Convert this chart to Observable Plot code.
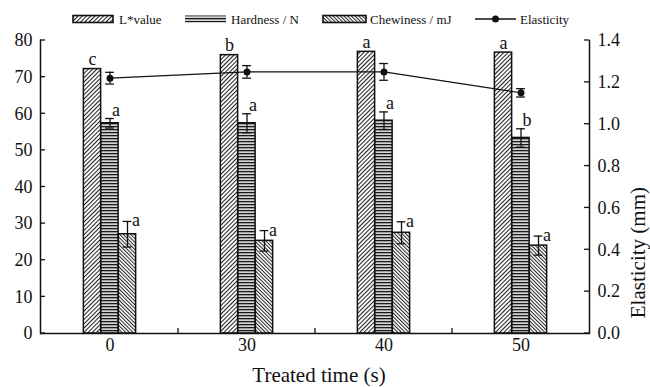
<!DOCTYPE html>
<html><head><meta charset="utf-8">
<script src="https://cdn.jsdelivr.net/npm/d3@7"></script>
<script src="https://cdn.jsdelivr.net/npm/@observablehq/plot@0.6"></script>
<style>
body{margin:0;background:#fff;font-family:"Liberation Serif","Times New Roman",Times,"DejaVu Serif",serif;}
#legend{height:30px;display:block;}
#chart svg{display:block;}
svg text{font-family:"Liberation Serif","Times New Roman",Times,"DejaVu Serif",serif;}
</style>
</head><body>
<div id="legend"></div>
<div id="chart"></div>
<script>
// ---- data ----
const categories = ["0", "30", "40", "50"];
const lValue = [72.2, 76.0, 76.9, 76.7];
const lLetters = ["c", "b", "a", "a"];
const hardness = [57.4, 57.4, 58.1, 53.4];
const hardnessErr = [1.3, 2.6, 2.4, 2.5];
const hardnessLetters = ["a", "a", "a", "b"];
const chewiness = [27.1, 25.3, 27.5, 24.0];
const chewinessErr = [3.5, 2.8, 3.0, 2.6];
const chewinessLetters = ["a", "a", "a", "a"];
const elasticity = [1.22, 1.25, 1.25, 1.15];
const elasticityErr = [0.028, 0.03, 0.04, 0.02];
const leftTicks = [0, 10, 20, 30, 40, 50, 60, 70, 80];
const rightTicks = [0, 0.2, 0.4, 0.6, 0.8, 1.0, 1.2, 1.4];
const seriesNames = ["L*value", "Hardness / N", "Chewiness / mJ", "Elasticity"];
const xTitle = "Treated time (s)";
const rightTitle = "Elasticity (mm)";

// ---- layout ----
const W = 650, H = 357, mL = 40, mR = 61, mT = 10, mB = 54;
const leftMax = 80, rightMax = 1.4;
const k = leftMax / rightMax;
const bw = (W - mL - mR) / categories.length;
const barW = 17.5;
const inset = (bw - barW) / 2;
const capHalf = 4.5;
const FONT = '"Liberation Serif","Times New Roman",Times,"DejaVu Serif",serif';

const rows = categories.map((c, i) => ({
  cat: c,
  l: lValue[i], lLet: lLetters[i],
  h: hardness[i], hErr: hardnessErr[i], hLet: hardnessLetters[i],
  c: chewiness[i], cErr: chewinessErr[i], cLet: chewinessLetters[i],
  e: elasticity[i] * k, eLo: (elasticity[i] - elasticityErr[i]) * k, eHi: (elasticity[i] + elasticityErr[i]) * k
}));

function ticksMark(index, scales, values, dims) {
  const {x, y} = scales;
  const left = dims.marginLeft, right = dims.width - dims.marginRight, bottom = dims.height - dims.marginBottom;
  const g = d3.create("svg:g").attr("stroke", "#111").attr("stroke-width", 1.3);
  leftTicks.forEach(t => g.append("line").attr("x1", left).attr("x2", left + 5).attr("y1", y(t)).attr("y2", y(t)));
  rightTicks.forEach(t => g.append("line").attr("x1", right - 5).attr("x2", right).attr("y1", y(t * k)).attr("y2", y(t * k)));
  categories.slice(1).forEach(c => g.append("line").attr("x1", x(c)).attr("x2", x(c)).attr("y1", bottom).attr("y2", bottom - 5));
  return g.node();
}

const barStyle = {stroke: "#111", strokeWidth: 1.5, insetLeft: inset, insetRight: inset};
const capStyle = {insetLeft: bw / 2 - capHalf, insetRight: bw / 2 - capHalf, stroke: "#111", strokeWidth: 1.3};
const plot = Plot.plot({
  width: W, height: H,
  marginLeft: mL, marginRight: mR, marginTop: mT, marginBottom: mB,
  style: {fontFamily: FONT, fontSize: "18px", color: "#111", background: "#fff"},
  x: {type: "band", domain: categories, padding: 0},
  y: {domain: [0, leftMax + 1e-6]},
  marks: [
    Plot.barY(rows, {x: "cat", y: "l", fill: "url(#patL)", dx: -barW, ...barStyle}),
    Plot.barY(rows, {x: "cat", y: "h", fill: "url(#patH)", dx: 0, ...barStyle}),
    Plot.barY(rows, {x: "cat", y: "c", fill: "url(#patC)", dx: barW, ...barStyle}),
    // error bars hardness
    Plot.ruleX(rows, {x: "cat", y1: d => d.h - d.hErr, y2: d => d.h + d.hErr, stroke: "#111", strokeWidth: 1.3}),
    Plot.tickY(rows, {x: "cat", y: d => d.h + d.hErr, ...capStyle}),
    Plot.tickY(rows, {x: "cat", y: d => d.h - d.hErr, ...capStyle}),
    // error bars chewiness
    Plot.ruleX(rows, {x: "cat", y1: d => d.c - d.cErr, y2: d => d.c + d.cErr, dx: barW, stroke: "#111", strokeWidth: 1.3}),
    Plot.tickY(rows, {x: "cat", y: d => d.c + d.cErr, dx: barW, ...capStyle}),
    Plot.tickY(rows, {x: "cat", y: d => d.c - d.cErr, dx: barW, ...capStyle}),
    // elasticity
    Plot.line(rows, {x: "cat", y: "e", stroke: "#111", strokeWidth: 1.1}),
    Plot.ruleX(rows, {x: "cat", y1: "eLo", y2: "eHi", stroke: "#111", strokeWidth: 1.3}),
    Plot.tickY(rows, {x: "cat", y: "eHi", ...capStyle}),
    Plot.tickY(rows, {x: "cat", y: "eLo", ...capStyle}),
    Plot.dot(rows, {x: "cat", y: "e", r: 3.5, fill: "#111", stroke: "none"}),
    // letters
    Plot.text(rows, {x: "cat", y: "l", text: "lLet", dx: -barW, dy: -4, lineAnchor: "bottom", fontSize: 18, fill: "#111"}),
    Plot.text(rows, {x: "cat", y: d => d.h + d.hErr, text: "hLet", dx: 6, dy: -3, lineAnchor: "bottom", fontSize: 18, fill: "#111"}),
    Plot.text(rows, {x: "cat", y: d => d.c + d.cErr, text: "cLet", dx: barW + 8.5, dy: 5, lineAnchor: "bottom", fontSize: 18, fill: "#111"}),
    // axes
    Plot.ruleY([0], {stroke: "#111", strokeWidth: 1.5}),
    Plot.frame({anchor: "left", stroke: "#111", strokeWidth: 1.5}),
    Plot.frame({anchor: "right", stroke: "#111", strokeWidth: 1.5}),
    ticksMark,
    Plot.axisY({anchor: "left", ticks: leftTicks, tickSize: 0, tickPadding: 8, label: null, fontSize: 18}),
    Plot.axisY({anchor: "right", ticks: rightTicks.map(t => +(t * k).toFixed(6)), tickFormat: v => (v / k).toFixed(1), tickSize: 0, tickPadding: 8, label: null, fontSize: 18}),
    Plot.axisX({tickSize: 0, tickPadding: 5, label: null, fontSize: 18}),
    Plot.text([xTitle], {frameAnchor: "bottom", dx: 4, dy: 42, lineAnchor: "middle", fontSize: 21, fill: "#111"}),
    Plot.text([rightTitle], {frameAnchor: "right", dx: 49, rotate: -90, lineAnchor: "middle", fontSize: 21, fill: "#111"})
  ]
});

const defs = `
<pattern id="patL" patternUnits="userSpaceOnUse" width="3" height="3" patternTransform="rotate(45)">
  <rect width="3" height="3" fill="#fff"/><line x1="0.5" y1="0" x2="0.5" y2="3" stroke="#222" stroke-width="1.1"/>
</pattern>
<pattern id="patH" patternUnits="userSpaceOnUse" width="4" height="3">
  <rect width="4" height="3" fill="#d4d4d4"/><rect y="0" width="4" height="1.3" fill="#1a1a1a"/>
</pattern>
<pattern id="patC" patternUnits="userSpaceOnUse" width="2.6" height="2.6" patternTransform="rotate(-45)">
  <rect width="2.6" height="2.6" fill="#fff"/><line x1="0.5" y1="0" x2="0.5" y2="2.6" stroke="#222" stroke-width="1"/>
</pattern>`;
const d = d3.select(plot).insert("defs", ":first-child");
d.html(defs);
document.getElementById("chart").appendChild(plot);

// ---- legend ----
const lg = d3.select("#legend").append("svg").attr("width", W).attr("height", 30).style("display", "block");
const cy = 19;
const items = [
  {x: 73, w: 40, fill: "url(#patL)", stroke: "#111", tx: 119},
  {x: 185, w: 41, fill: "url(#patH)", stroke: "none", tx: 231},
  {x: 323, w: 43, fill: "url(#patC)", stroke: "#111", tx: 370}
];
items.forEach((it, i) => {
  lg.append("rect").attr("x", it.x).attr("y", cy - 3.5).attr("width", it.w).attr("height", 7)
    .attr("fill", it.fill).attr("stroke", it.stroke).attr("stroke-width", 1.6);
  lg.append("text").attr("x", it.tx).attr("y", cy).attr("dominant-baseline", "central")
    .attr("font-size", 13).attr("fill", "#111").text(seriesNames[i]);
});
lg.append("line").attr("x1", 475).attr("x2", 516).attr("y1", cy).attr("y2", cy).attr("stroke", "#111").attr("stroke-width", 1.3);
lg.append("circle").attr("cx", 495.5).attr("cy", cy).attr("r", 3.5).attr("fill", "#111");
lg.append("text").attr("x", 520).attr("y", cy).attr("dominant-baseline", "central")
  .attr("font-size", 13).attr("fill", "#111").text(seriesNames[3]);
</script>
</body></html>
